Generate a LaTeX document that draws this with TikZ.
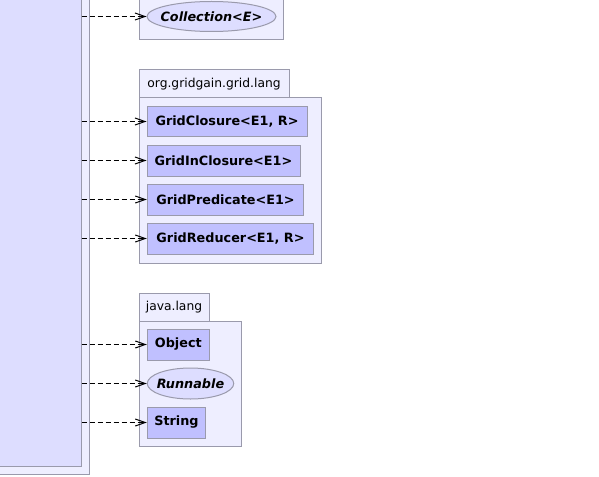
\documentclass[tikz,border=0pt]{standalone}
\usepackage{fontspec}
\setmainfont{DejaVu Sans}
\usetikzlibrary{shapes.geometric,arrows.meta}
\definecolor{pkgfill}{HTML}{EEEEFF}
\definecolor{clsfill}{HTML}{C0C0FF}
\definecolor{intfill}{HTML}{DDDDFF}
\definecolor{bordercol}{HTML}{9A9AAC}
\tikzset{
  pkgbox/.style={draw=bordercol, fill=pkgfill, line width=1pt, rectangle, inner sep=0pt, anchor=center},
  clsbox/.style={draw=bordercol, fill=clsfill, line width=1pt, rectangle, inner sep=0pt,
    font=\fontsize{12.8}{15}\selectfont\bfseries},
  intbox/.style={draw=bordercol, fill=intfill, line width=1pt, ellipse, inner xsep=-20pt, inner ysep=-10pt,
    font=\fontsize{12.8}{15}\selectfont\bfseries\itshape},
  tablabel/.style={font=\fontsize{12.3}{14}\selectfont, inner sep=0pt},
  dep/.style={draw=black, line width=1pt, dash pattern=on 5pt off 3pt,
    -{Straight Barb[length=10pt,width=7pt,line width=1pt]}},
}
\begin{document}
\begin{tikzpicture}[x=1pt,y=-1pt]
\useasboundingbox (0,0) rectangle (599,476);
\clip (0,0) rectangle (599,476);
% left main class
\node[pkgbox, minimum width=109pt, minimum height=494pt] (mainouter) at (34.5,227) {};
\node[draw=bordercol, fill=intfill, line width=1pt, rectangle, inner sep=0pt, minimum width=101pt, minimum height=486pt] (main) at (30.5,223) {};
% java.util package (partially visible)
\node[pkgbox, minimum width=144pt, minimum height=60pt] (pkgutil) at (211,10) {};
\node[intbox, minimum width=129pt, minimum height=30pt] (coll) at (211.5,16.5) {Collection<E>};
% org.gridgain.grid.lang
\node[pkgbox, minimum width=150pt, minimum height=28pt] (tab1) at (214,84) {};
\node[tablabel] (tab1lbl) at (214,84.5) {org.gridgain.grid.lang};
\node[pkgbox, minimum width=182pt, minimum height=165pt] (pkg1) at (230,180.5) {};
\node[clsbox, minimum width=160pt, minimum height=30pt] (gc) at (227,121.5) {GridClosure<E1, R>};
\node[clsbox, minimum width=153pt, minimum height=31pt] (gic) at (223.5,160.5) {GridInClosure<E1>};
\node[clsbox, minimum width=156.5pt, minimum height=31pt] (gp) at (225.5,199.5) {GridPredicate<E1>};
\node[clsbox, minimum width=166.5pt, minimum height=31pt] (gr) at (230.5,238.5) {GridReducer<E1, R>};
% java.lang
\node[pkgbox, minimum width=70pt, minimum height=28pt] (tab2) at (174,307) {};
\node[tablabel] (tab2lbl) at (174,307.5) {java.lang};
\node[pkgbox, minimum width=102.5pt, minimum height=125pt] (pkg2) at (190.25,383.5) {};
\node[clsbox, minimum width=62pt, minimum height=31pt] (obj) at (178.3,344.5) {Object};
\node[intbox, minimum width=86.5pt, minimum height=31pt] (run) at (190.5,383.5) {Runnable};
\node[clsbox, minimum width=58.5pt, minimum height=31pt] (str) at (176.5,422.5) {String};
% dependencies
\foreach \t in {coll,gc,gic,gp,gr,obj,run,str}{
  \draw[dep] (main.east |- \t.west) -- (\t.west);
}
\end{tikzpicture}
\end{document}
